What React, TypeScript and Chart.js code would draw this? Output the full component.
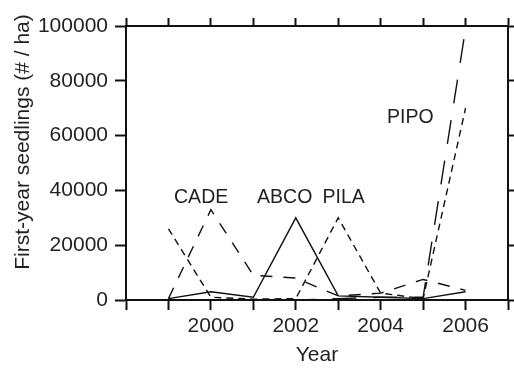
import React, { useEffect, useRef } from "react";
import { Chart, registerables } from "chart.js";

Chart.register(...registerables);

const years = [1999, 2000, 2001, 2002, 2003, 2004, 2005, 2006];
const abco = [500, 3000, 1000, 30000, 1500, 1000, 500, 3000];
const cade = [500, 33000, 9000, 8000, 1500, 2500, 7500, 3500];
const pila = [26000, 1000, 300, 500, 30000, 2500, 500, 70000];
const pipo = [0, 0, 0, 0, 500, 1000, 1000, 99000];

const seriesNames = ["ABCO", "CADE", "PILA", "PIPO"];
const seriesDash = [[], [12, 11], [7, 5], [24, 17]];
const labelYears = [2000, 2002, 2004, 2006];
const yTicks = [0, 20000, 40000, 60000, 80000, 100000];
const yTitle = "First-year seedlings (# / ha)";

// annotation positions in data units
const annotations = [
  { text: "CADE", x: 1999.77, y: 37200 },
  { text: "ABCO", x: 2001.74, y: 37200 },
  { text: "PILA", x: 2003.13, y: 37500 },
  { text: "PIPO", x: 2004.7, y: 66500 },
];

const FONT = "'Liberation Sans', Arial, Helvetica, sans-serif";
const TEXT = "#231f20";

export default function App() {
  const ref = useRef<HTMLCanvasElement | null>(null);

  useEffect(() => {
    const canvas = ref.current;
    if (!canvas) return;
    const values = [abco, cade, pila, pipo];
    const datasets = values.map((vals, i) => ({
      label: seriesNames[i],
      data: years.map((yr, j) => ({ x: yr, y: vals[j] })),
      borderColor: "#111",
      borderWidth: 1.4,
      borderDash: seriesDash[i],
      pointRadius: 0,
      tension: 0,
      fill: false,
    }));

    const annotationPlugin = {
      id: "annots",
      afterDatasetsDraw(chart: any) {
        const ctx = chart.ctx;
        const xs = chart.scales.x;
        const ys = chart.scales.y;
        ctx.save();
        ctx.font = `19.5px ${FONT}`;
        ctx.fillStyle = TEXT;
        ctx.textAlign = "center";
        ctx.textBaseline = "middle";
        annotations.forEach((a) => {
          ctx.fillText(a.text, xs.getPixelForValue(a.x), ys.getPixelForValue(a.y));
        });
        // y axis title
        ctx.font = `21px ${FONT}`;
        ctx.textBaseline = "alphabetic";
        ctx.translate(29, 142);
        ctx.rotate(-Math.PI / 2);
        ctx.fillText(yTitle, 0, 0);
        ctx.restore();
      },
    };

    const chart = new Chart(canvas, {
      type: "line",
      data: { datasets },
      options: {
        animation: false,
        responsive: false,
        layout: { padding: 0 },
        plugins: { legend: { display: false }, tooltip: { enabled: false } },
        scales: {
          x: {
            type: "linear",
            position: "bottom",
            min: 1998,
            max: 2007,
            afterFit: (s: any) => {
              s.height = 68;
            },
            ticks: {
              stepSize: 1,
              padding: 4,
              color: TEXT,
              font: { family: FONT, size: 21 },
              maxRotation: 0,
              autoSkip: false,
              callback: (v: any) => (labelYears.includes(Number(v)) ? String(v) : ""),
            },
            grid: {
              drawOnChartArea: false,
              drawTicks: true,
              tickLength: 10,
              tickColor: "#111",
              tickWidth: 2,
            },
            border: { display: true, color: "#111", width: 2 },
            title: {
              display: true,
              text: "Year",
              color: TEXT,
              font: { family: FONT, size: 21 },
              padding: { top: 0, bottom: 0 },
            },
          },
          x2: {
            type: "linear",
            position: "top",
            min: 1998,
            max: 2007,
            afterFit: (s: any) => {
              s.height = 26;
            },
            ticks: { display: false, stepSize: 1 },
            grid: {
              drawOnChartArea: false,
              drawTicks: true,
              tickLength: 8,
              tickColor: "#111",
              tickWidth: 2,
            },
            border: { display: true, color: "#111", width: 2 },
          },
          y: {
            type: "linear",
            position: "left",
            min: 0,
            max: 100000,
            afterFit: (s: any) => {
              s.width = 126;
            },
            afterBuildTicks: (s: any) => {
              s.ticks = yTicks.map((v) => ({ value: v }));
            },
            ticks: {
              padding: 7,
              color: TEXT,
              font: { family: FONT, size: 21 },
              callback: (v: any) => String(v),
            },
            grid: {
              drawOnChartArea: false,
              drawTicks: true,
              tickLength: 11,
              tickColor: "#111",
              tickWidth: 2,
            },
            border: { display: true, color: "#111", width: 2 },
          },
          y2: {
            type: "linear",
            position: "right",
            min: 0,
            max: 100000,
            afterFit: (s: any) => {
              s.width = 6;
            },
            afterBuildTicks: (s: any) => {
              s.ticks = yTicks.map((v) => ({ value: v }));
            },
            ticks: { display: false },
            grid: {
              drawOnChartArea: false,
              drawTicks: true,
              tickLength: 6,
              tickColor: "#111",
              tickWidth: 2,
            },
            border: { display: true, color: "#111", width: 2 },
          },
        },
      } as any,
      plugins: [annotationPlugin],
    });
    return () => chart.destroy();
  }, []);

  return (
    <div style={{ position: "fixed", left: 0, top: 0, width: 514, height: 368, background: "#fff" }}>
      <canvas ref={ref} width={514} height={368} style={{ display: "block" }} />
    </div>
  );
}
